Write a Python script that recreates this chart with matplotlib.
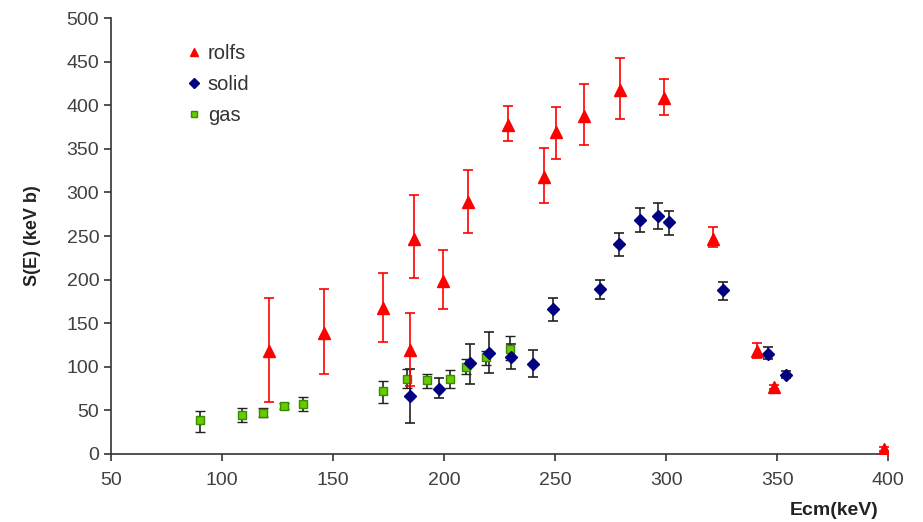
import matplotlib
matplotlib.use("Agg")
import matplotlib.pyplot as plt

plt.rcParams['font.family'] = ['Liberation Sans', 'DejaVu Sans']

# Rolfs data
rolfs_x = [121, 145.8, 172.4, 184.7, 186.6, 199.7, 210.7, 228.7, 245.2, 250.5, 262.8, 279.4, 299, 321.3, 341.1, 348.5, 397.9]
rolfs_y = [118, 139, 168, 119, 247, 198, 289, 377, 318, 369, 388, 418, 408.6, 246.6, 118, 77, 5.4]
rolfs_lo = [60, 91.7, 128.8, 78, 202, 166, 253, 358.6, 287.5, 338.7, 354, 383.8, 388.4, 237.7, 110, 74.5, 3]
rolfs_hi = [178.5, 189.6, 208, 161.3, 296.6, 234, 326, 399, 351, 397.5, 424, 453.8, 430, 260.7, 127, 79.5, 7.5]

# Solid target data
solid_x = [184.7, 197.9, 211.7, 220.1, 230.2, 240, 249.1, 270, 278.7, 288, 296.4, 301.5, 325.8, 345.8, 354]
solid_y = [67, 75, 104, 116, 111.6, 103.6, 166, 189, 240.5, 268, 272.5, 265.7, 187.7, 115, 91]
solid_lo = [36, 63.8, 80, 93, 97.8, 88.6, 152, 178, 227, 255, 257.7, 251, 176.6, 108.6, 87]
solid_hi = [97.5, 86.8, 126, 140, 126, 119.6, 178.5, 200, 253, 282.5, 287.5, 279, 197.2, 122.7, 95]

# Gas target data
gas_x = [90.1, 108.9, 118.3, 128, 136.6, 172.4, 183.2, 192.2, 202.7, 209.9, 218.9, 229.7]
gas_y = [39, 44.7, 47.4, 55, 57.3, 72.6, 86, 85, 86.4, 99.8, 111.6, 121]
gas_lo = [25.6, 37, 42.4, 52, 49.3, 58.5, 76, 76, 76, 91.7, 102, 107.8]
gas_hi = [49.3, 52.8, 52.4, 58, 65.4, 83.7, 97.5, 91.7, 96.3, 108.6, 117.8, 135]

x_ticks = [50, 100, 150, 200, 250, 300, 350, 400]
y_ticks = [0, 50, 100, 150, 200, 250, 300, 350, 400, 450, 500]


def yerr(y, lo, hi):
    return [[v - l for v, l in zip(y, lo)], [h - v for v, h in zip(y, hi)]]


fig = plt.figure(figsize=(9.23, 5.22), dpi=100)
ax = fig.add_axes([0.1203, 0.1303, 0.842, 0.835])

ax.errorbar(gas_x, gas_y, yerr=yerr(gas_y, gas_lo, gas_hi), fmt='s',
            color='#66CC00', mec='#3A8A00', mew=1.0, ms=5.5,
            ecolor='#222222', elinewidth=1.2, capsize=3.5, capthick=1.2,
            label='gas', zorder=3)
ax.errorbar(solid_x, solid_y, yerr=yerr(solid_y, solid_lo, solid_hi), fmt='D',
            color='#000080', mec='#000080', ms=6,
            ecolor='#222222', elinewidth=1.2, capsize=3.5, capthick=1.2,
            label='solid', zorder=3)
ax.errorbar(rolfs_x, rolfs_y, yerr=yerr(rolfs_y, rolfs_lo, rolfs_hi), fmt='^',
            color='#FF0000', mec='#FF0000', ms=8,
            ecolor='#FF0000', elinewidth=1.2, capsize=3.5, capthick=1.2,
            label='rolfs', zorder=4)

ax.set_xlim(50, 400)
ax.set_ylim(0, 500)
ax.set_xticks(x_ticks)
ax.set_yticks(y_ticks)

for side in ('top', 'right'):
    ax.spines[side].set_visible(False)
for side in ('left', 'bottom'):
    ax.spines[side].set_color('#333333')
    ax.spines[side].set_linewidth(1.2)
ax.tick_params(axis='both', direction='out', length=5, width=1.2,
               color='#333333', labelsize=14, labelcolor='#404040')
ax.tick_params(axis='x', pad=8)

ax.set_ylabel('S(E) (keV b)', fontsize=13, fontweight='bold', color='#222222', labelpad=18)
ax.text(0.987, -0.11, 'Ecm(keV)', transform=ax.transAxes, ha='right', va='top',
        fontsize=14, fontweight='bold', color='#222222')

handles, labels = ax.get_legend_handles_labels()
order = [2, 1, 0]
leg = ax.legend([handles[i][0] for i in order], [labels[i] for i in order],
                loc='upper left', bbox_to_anchor=(0.07, 0.982), frameon=False,
                fontsize=14.5, handletextpad=0.2, labelspacing=0.6, handlelength=1.0,
                markerscale=0.8)
for t in leg.get_texts():
    t.set_color('#333333')

fig.savefig('out.png', dpi=100)
